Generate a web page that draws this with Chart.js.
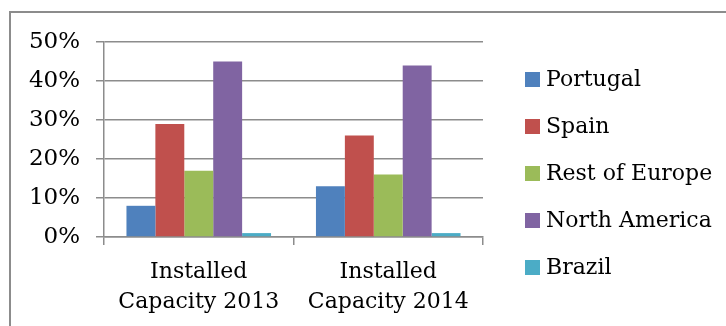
<!DOCTYPE html>
<html>
<head>
<meta charset="utf-8">
<script src="https://cdn.jsdelivr.net/npm/chart.js@4/dist/chart.umd.min.js"></script>
<style>
  html, body { margin: 0; padding: 0; background: #fff; }
  #wrap { position: relative; width: 726px; height: 326px; overflow: hidden; }
  #c { position: absolute; left: 0; top: 0; }
  .lg { position: absolute; font-family: "DejaVu Serif", serif; font-size: 22px; color: #000; white-space: nowrap; line-height: 26px; }
  .sw { position: absolute; width: 15px; height: 15px; }
</style>
</head>
<body>
<div id="wrap">
  <canvas id="c" width="726" height="326"></canvas>
</div>
<script>
// ---- data ----
const categories = [["Installed", "Capacity 2013"], ["Installed", "Capacity 2014"]];
const seriesNames = ["Portugal", "Spain", "Rest of Europe", "North America", "Brazil"];
const portugal = [8, 13];
const spain = [29, 26];
const restOfEurope = [17, 16];
const northAmerica = [45, 44];
const brazil = [1, 1];
const yTicks = [0, 10, 20, 30, 40, 50];
const colors = ["#4F81BD", "#C0504D", "#9BBB59", "#8064A2", "#4BACC6"];

const seriesValues = [portugal, spain, restOfEurope, northAmerica, brazil];
const FONT = "'DejaVu Serif', serif";
const GRID = "#8c8c8c";

const framePlugin = {
  id: 'frame',
  afterDraw(chart) {
    const ctx = chart.ctx;
    ctx.save();
    ctx.strokeStyle = GRID;
    ctx.lineWidth = 2;
    ctx.beginPath();
    ctx.moveTo(10, 326);
    ctx.lineTo(10, 12);
    ctx.lineTo(726, 12);
    ctx.stroke();
    ctx.restore();
  }
};

const chart = new Chart(document.getElementById('c'), {
  type: 'bar',
  data: {
    labels: categories,
    datasets: seriesNames.map((n, i) => ({
      label: n,
      data: seriesValues[i],
      backgroundColor: colors[i],
      borderWidth: 0,
      categoryPercentage: 0.763,
      barPercentage: 1.0
    }))
  },
  plugins: [framePlugin],
  options: {
    responsive: false,
    animation: false,
    layout: { padding: { left: 10, top: 42, right: 243, bottom: 0 } },
    plugins: {
      legend: { display: false },
      tooltip: { enabled: false }
    },
    scales: {
      x: {
        grid: { display: true, drawOnChartArea: false, drawTicks: true, tickLength: 8, color: GRID, lineWidth: 1.5, offset: true },
        border: { display: true, color: GRID, width: 1.5 },
        ticks: { color: '#000', font: { family: FONT, size: 22, lineHeight: 30 / 22 }, padding: 12, maxRotation: 0, autoSkip: false },
        afterFit(s) { s.height = 89; }
      },
      y: {
        min: 0, max: 50,
        afterBuildTicks(s) { s.ticks = yTicks.map(v => ({ value: v })); },
        grid: { color: GRID, lineWidth: 1.5, tickLength: 8, drawTicks: true },
        border: { display: true, color: GRID, width: 1.5 },
        ticks: { color: '#000', font: { family: FONT, size: 23 }, padding: 16, callback: v => v + '%' },
        afterFit(s) { s.width = 94; }
      }
    }
  }
});

// ---- legend (HTML, built from the series arrays) ----
const wrap = document.getElementById('wrap');
const legendTop = 79, legendStep = 47;
seriesNames.forEach((n, i) => {
  const cy = legendTop + i * legendStep;
  const sw = document.createElement('div');
  sw.className = 'sw';
  sw.style.left = '525px';
  sw.style.top = (cy - 7.5) + 'px';
  sw.style.background = colors[i];
  wrap.appendChild(sw);
  const t = document.createElement('div');
  t.className = 'lg';
  t.textContent = n;
  t.style.left = '546px';
  t.style.top = (cy - 13) + 'px';
  wrap.appendChild(t);
});
</script>
</body>
</html>
